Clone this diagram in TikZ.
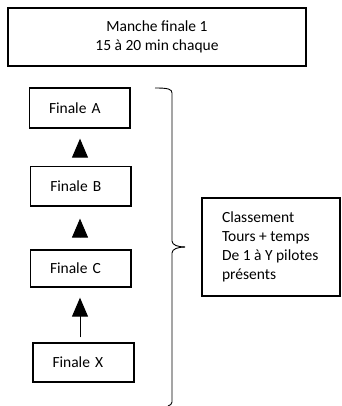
\documentclass[tikz,border=0pt]{standalone}
\usepackage{fontspec}
\setmainfont{Carlito}
\usetikzlibrary{arrows.meta,calc}
\begin{document}
\begin{tikzpicture}[x=1pt,y=-1pt,
  every node/.style={font=\fontsize{15.5}{19}\selectfont},
  box/.style={draw,line width=1.3pt,inner sep=0pt,inner xsep=19.5pt,align=left},
  tri/.style={line width=1pt,-{Triangle[width=16pt,length=19pt]}},
  brace/.style={line width=0.9pt}]
\useasboundingbox (0,0) rectangle (341,406);
\node[draw,line width=1.3pt,minimum width=298pt,minimum height=58pt,align=center] (top) at (157,37) {Manche finale 1\\15 à 20 min chaque};
\node[box,text width=61.5pt,minimum height=40pt] (a) at (79.75,108) {Finale A};
\node[box,text width=61.3pt,minimum height=39.3pt] (b) at (80.9,186.3) {Finale B};
\node[box,text width=61.5pt,minimum height=37pt] (c) at (80.75,268.5) {Finale C};
\node[box,text width=62pt,minimum height=39pt] (x) at (83.5,362.5) {Finale X};
\node[draw,line width=1.3pt,inner sep=0pt,inner xsep=20pt,minimum height=98pt] (cl) at (271,247)
  {\makebox[98pt][l]{\begin{tabular}{@{}l@{}}Classement\\Tours + temps\\De 1 à Y pilotes\\présents\end{tabular}}};
\draw[tri,shorten <=9.7pt,shorten >=10pt] (b.north -| 80,0) -- (a.south -| 80,0);
\draw[tri,shorten <=12pt,shorten >=12pt] (c.north -| 80,0) -- (b.south -| 80,0);
\draw[tri,shorten <=5pt,shorten >=10pt] (x.north -| 80,0) -- (c.south -| 80,0);
\coordinate (bt) at (155,88);
\coordinate (tip) at (185,247);
\coordinate (bb) at (168,406);
\draw[brace] (bt) .. controls (168,88) and (172,89) .. (172,93) -- (172,241) .. controls (172,245) and (178,247) .. (tip);
\draw[brace] (tip) .. controls (178,247) and (172,249) .. (172,253) -- (172,402) .. controls (172,404) and (170,405.5) .. (bb);
\end{tikzpicture}
\end{document}
